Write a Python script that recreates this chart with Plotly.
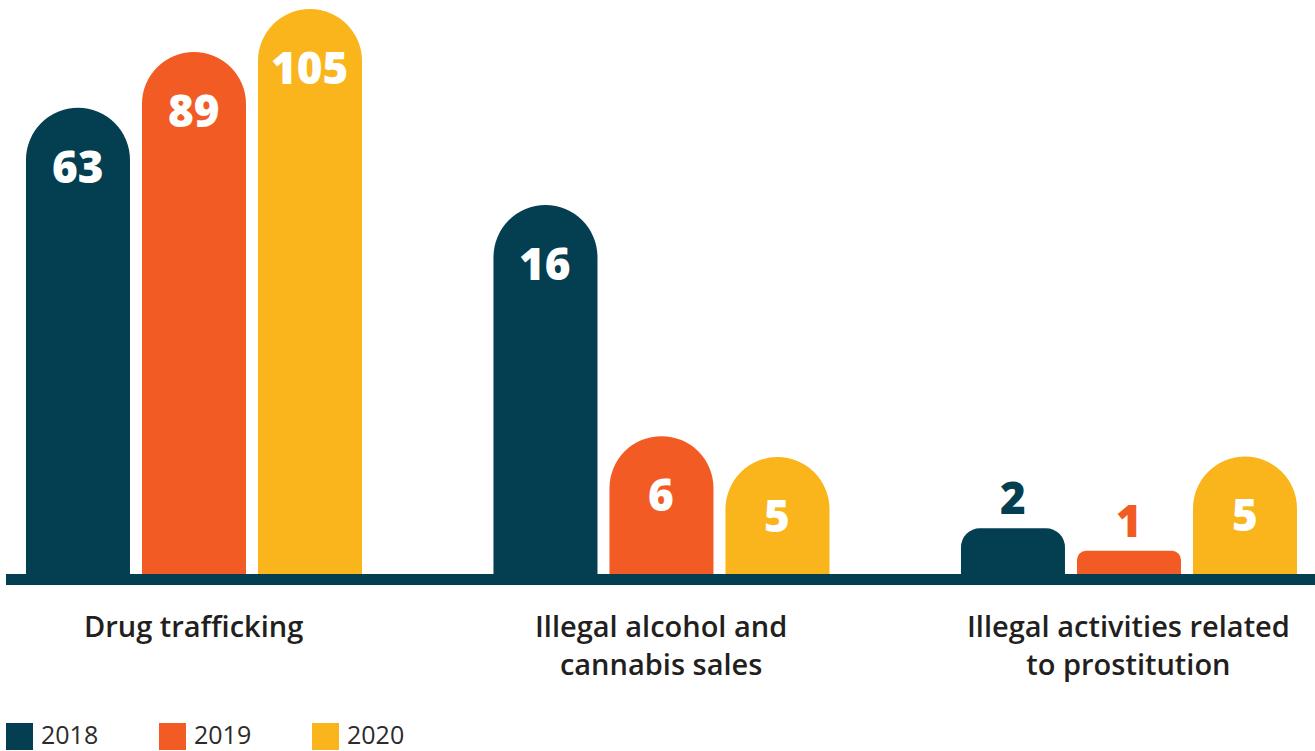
import plotly.graph_objects as go

# ---- data ----
categories = ["Drug trafficking", "Illegal alcohol and<br>cannabis sales",
              "Illegal activities related<br>to prostitution"]
years = ["2018", "2019", "2020"]
values_2018 = [63, 16, 2]
values_2019 = [89, 6, 1]
values_2020 = [105, 5, 5]
# displayed (stylised) bar heights as drawn in the infographic, relative units (tallest = 100)
heights_2018 = [82.5, 65.3, 8.1]
heights_2019 = [92.4, 24.4, 4.1]
heights_2020 = [100.0, 20.7, 20.8]
colors = ["#033f51", "#f25c24", "#f9b51b"]

values = [values_2018, values_2019, values_2020]
heights = [heights_2018, heights_2019, heights_2020]

W, H = 1315, 751
ML, MR, MT, MB = 6, 0, 9, 177
PW, PH = W - ML - MR, H - MT - MB
YMAX = 100.0
BARGAP = 0.2556
GROUPGAP = 0.1034
XR = [-0.4021, 2.3979]

xs = list(range(len(categories)))
slot = (1 - BARGAP) / len(years)
bar_w = slot * (1 - GROUPGAP)
bar_w_px = bar_w * PW / (XR[1] - XR[0])

fig = go.Figure()
for k, yr in enumerate(years):
    for i, x in enumerate(xs):
        h = heights[k][i]
        h_px = h / YMAX * PH
        # tall bars get a full half-round top, short bars a softer rounded corner
        radius = bar_w_px / 2 if h_px >= bar_w_px else 0.42 * h_px
        fig.add_trace(go.Bar(
            x=[x], y=[h], name=yr, width=bar_w, offset=(k - 1) * slot - bar_w / 2,
            marker=dict(color=colors[k], cornerradius=radius, line=dict(width=0)),
            hoverinfo="skip", showlegend=False,
        ))

annotations = []
for k in range(len(years)):
    for i, x in enumerate(xs):
        h = heights[k][i]
        inside = h > 12
        annotations.append(dict(
            x=x + (k - 1) * slot, y=h, xref="x", yref="y",
            text=str(values[k][i]), showarrow=False,
            yanchor="middle", xanchor="center",
            yshift=-58 if inside else 31,
            font=dict(family="Open Sans", size=44, weight=800,
                      color="white" if inside else colors[k]),
        ))

# category labels
for i, cat in enumerate(categories):
    annotations.append(dict(
        x=xs[i], y=0, xref="x", yref="paper", text=cat, showarrow=False,
        xanchor="center", yanchor="top", yshift=-30, align="center",
        font=dict(family="Open Sans", size=29, color="#231f20", weight=600),
    ))

# custom legend
def px_x(p):
    return (p - ML) / PW

def px_y(p):
    return (H - MB - p) / PH

shapes = []
legend_left = [6, 159, 312]
for k, yr in enumerate(years):
    x0 = legend_left[k]
    shapes.append(dict(type="rect", xref="paper", yref="paper",
                       x0=px_x(x0), x1=px_x(x0 + 27), y0=px_y(750), y1=px_y(723),
                       fillcolor=colors[k], line=dict(width=0)))
    annotations.append(dict(x=px_x(x0 + 33), y=px_y(734), xref="paper", yref="paper",
                            text=yr, showarrow=False, xanchor="left", yanchor="middle",
                            font=dict(family="Open Sans", size=25, color="#2b2b2b")))

fig.update_layout(
    width=W, height=H, margin=dict(l=ML, r=MR, t=MT, b=MB),
    barmode="overlay",
    plot_bgcolor="white", paper_bgcolor="white",
    xaxis=dict(range=XR, showticklabels=False, showgrid=False, zeroline=False,
               showline=True, linecolor="#033f51", linewidth=11, ticks=""),
    yaxis=dict(range=[0, YMAX], visible=False, showgrid=False, zeroline=False),
    annotations=annotations, shapes=shapes, showlegend=False,
)
fig.write_html("out.html")
